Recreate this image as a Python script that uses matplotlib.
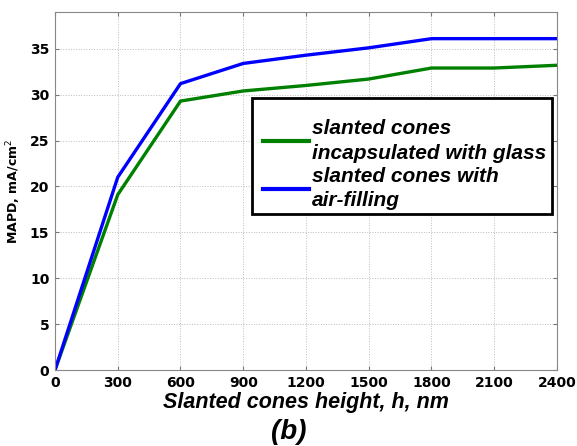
import matplotlib
matplotlib.use('Agg')
import matplotlib.pyplot as plt
from matplotlib.patches import Rectangle

height = [0, 300, 600, 900, 1200, 1500, 1800, 2100, 2400]
glass = [0, 19.1, 29.3, 30.4, 31.0, 31.7, 32.9, 32.9, 33.2]
air = [0, 21.0, 31.2, 33.4, 34.3, 35.1, 36.1, 36.1, 36.1]
xticks = [0, 300, 600, 900, 1200, 1500, 1800, 2100, 2400]
yticks = [0, 5, 10, 15, 20, 25, 30, 35]

plt.rcParams['font.family'] = ['Liberation Sans', 'DejaVu Sans']

fig = plt.figure(figsize=(5.77, 4.46), dpi=100)
ax = fig.add_axes([0.0953, 0.1704, 0.870, 0.8026])

ax.plot(height, glass, color='#008000', lw=2.4, label='slanted cones\nincapsulated with glass')
ax.plot(height, air, color='#0000ff', lw=2.4, label='slanted cones with\nair-filling')

ax.set_xlim(0, 2400)
ax.set_ylim(0, 39)
ax.set_xticks(xticks)
ax.set_yticks(yticks)
ax.tick_params(length=3, direction='in', pad=4, top=True, right=True, color='#777777')
for lab in ax.get_xticklabels() + ax.get_yticklabels():
    lab.set_fontweight('bold')
    lab.set_fontfamily('DejaVu Sans')
    lab.set_fontsize(10)
ax.grid(True, ls=':', color='#bbbbbb', lw=0.7)
for sp in ax.spines.values():
    sp.set_color('#888888')

ax.set_xlabel('Slanted cones height, h, nm', fontsize=15.5, fontweight='bold', style='italic', labelpad=2)
ax.set_ylabel('MAPD, mA/cm$^2$', fontsize=9, fontweight='bold', labelpad=5, family='DejaVu Sans')

# legend box (MATLAB style: more room on top)
box = Rectangle((0.3924, 0.4358), 0.5976, 0.324, transform=ax.transAxes,
                facecolor='white', edgecolor='black', lw=2, zorder=4)
ax.add_patch(box)

leg = ax.legend(loc='upper left', bbox_to_anchor=(0.406, 0.712),
                prop={'weight': 'bold', 'style': 'italic', 'size': 15},
                frameon=False, handlelength=2.2, handletextpad=0.15,
                borderpad=0.2, labelspacing=0.22, borderaxespad=0)
leg.set_zorder(5)
for t in leg.get_texts():
    t.set_linespacing(1.35)
for line in leg.get_lines():
    line.set_linewidth(3)

fig.text(0.5, 0.003, '(b)', fontsize=20, style='italic', fontweight='bold', ha='center', va='bottom')

fig.savefig('out.png', dpi=100)
